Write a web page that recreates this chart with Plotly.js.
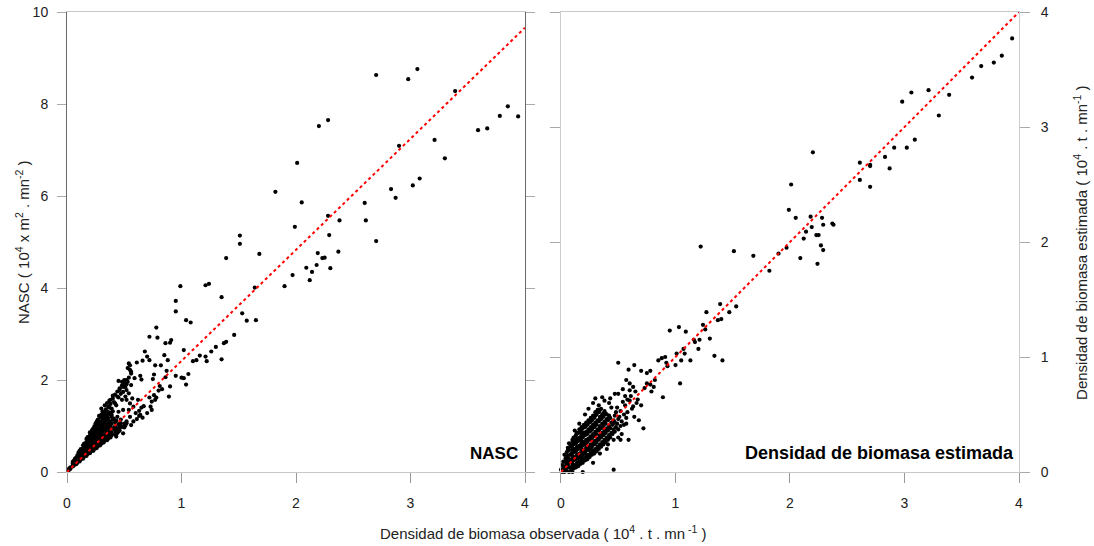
<!DOCTYPE html>
<html>
<head>
<meta charset="utf-8">
<script src="https://cdn.plot.ly/plotly-3.0.1.min.js"></script>
<style>html,body{margin:0;padding:0;background:#fff;}#chart{width:1094px;height:546px;}</style>
</head>
<body>
<div id="chart"></div>
<script>
// ---- Data ----
// Left panel: observed biomass density (x) vs NASC (y)
const nascPoints = [
  // sparse high values
  [2.70,8.63],[3.06,8.76],[2.98,8.54],[3.39,8.28],[3.85,7.95],[3.78,7.74],[3.94,7.73],[3.59,7.43],[3.67,7.47],
  [2.20,7.52],[2.28,7.65],[3.21,7.22],[3.30,6.82],[2.90,7.09],[2.01,6.72],[2.83,6.15],[2.87,5.96],[3.02,6.23],
  [3.08,6.38],[1.82,6.09],[2.05,5.86],[2.60,5.85],[2.28,5.57],[2.38,5.47],[2.61,5.47],[1.99,5.33],[2.29,5.15],
  [2.70,5.02],[1.51,5.14],[1.51,4.96],[1.68,4.74],[1.39,4.65],[2.19,4.76],[2.37,4.79],[2.23,4.65],[2.25,4.66],
  [2.18,4.50],[2.09,4.44],[2.30,4.43],[2.14,4.35],[1.97,4.28],[2.12,4.17],[1.90,4.04],[1.64,4.01],[1.21,4.06],
  [1.24,4.09],[1.35,3.80],
  // middle values
  [0.99,4.04],[0.95,3.72],[0.95,3.49],[1.04,3.30],[1.08,3.25],[1.53,3.45],[1.57,3.29],[1.65,3.30],[1.46,2.98],
  [1.39,2.83],[1.37,2.80],[1.30,2.72],[1.26,2.62],[1.35,2.45],[1.21,2.51],[1.22,2.41],[1.16,2.53],[1.10,2.41],
  [1.13,2.43],[1.02,2.65],[1.06,2.13],[1.00,2.05],[1.02,2.04],[1.04,1.90],[0.95,2.09],[0.78,3.14],[0.72,2.94],
  [0.79,2.92],[0.86,2.80],[0.91,2.87],[0.90,2.81],[0.85,2.54],[0.88,2.43],[0.68,2.62],[0.70,2.51],[0.72,2.43],
  [0.61,2.38],[0.66,2.42],[0.54,2.36],[0.77,2.32],[0.82,2.32],[0.76,2.12],[0.75,2.02],[0.87,2.20],[0.86,2.06],
  [0.83,1.80],[0.80,1.77],[0.81,1.87],[0.89,1.64],[0.90,1.86],[0.76,1.67],[0.78,1.62],[0.77,1.57],[0.72,1.62],
  [0.74,1.53],[0.73,1.42],[0.65,1.40],[0.64,1.24],[0.63,1.33],
  [0.55,2.22],[0.56,2.14],[0.52,2.00],[0.53,1.96],[0.56,1.89],[0.59,2.04],[0.64,2.09],[0.65,2.01],
  [0.45,1.98],[0.48,1.96],[0.50,2.00],[0.49,1.85],[0.52,1.78],[0.46,1.78],[0.44,1.64],[0.40,1.60],[0.38,1.57],
  [0.42,1.49],[0.48,1.57],[0.51,1.64],[0.54,1.71],[0.57,1.60],[0.52,1.57],[0.55,1.49],[0.58,1.42],[0.54,1.35],
  [0.49,1.35],[0.45,1.31],[0.62,1.57],[0.67,1.43],[0.70,1.28],[0.74,1.35],[0.55,1.20],[0.52,1.06],[0.48,0.98],
  [0.49,0.84],[0.45,0.88],[0.43,0.77],[0.61,1.15],[0.63,1.22],[0.66,1.18],[0.60,1.28],[0.58,1.10],[0.56,1.02],
  [0.30,1.38],[0.33,1.45],[0.35,1.50],[0.37,1.55],[0.40,1.66],[0.38,1.48],[0.42,1.68],[0.44,1.75],[0.41,1.52],
  [0.46,1.82],[0.48,1.88],[0.45,1.62],[0.50,1.93],[0.47,1.70],[0.52,1.91],[0.49,1.74],[0.43,1.45],[0.54,2.05],
  [0.51,1.85],[0.56,2.18],[0.53,2.26],[0.55,2.32],[0.39,1.38],[0.36,1.42],
  // dense cluster near the origin
  [0.02,0.05],[0.02,0.08],[0.03,0.10],[0.01,0.03],[0.03,0.07],
  [0.05,0.12],[0.05,0.18],[0.05,0.22],[0.06,0.14],[0.06,0.25],
  [0.08,0.17],[0.08,0.24],[0.08,0.31],[0.09,0.36],[0.09,0.20],[0.07,0.29],
  [0.11,0.23],[0.11,0.30],[0.11,0.38],[0.11,0.46],[0.12,0.50],[0.12,0.27],[0.10,0.42],
  [0.14,0.29],[0.14,0.36],[0.14,0.43],[0.14,0.51],[0.14,0.58],[0.15,0.62],[0.15,0.33],[0.13,0.48],
  [0.17,0.35],[0.17,0.42],[0.17,0.49],[0.17,0.57],[0.17,0.65],[0.17,0.72],[0.18,0.39],[0.18,0.61],[0.16,0.54],
  [0.20,0.41],[0.20,0.48],[0.20,0.56],[0.20,0.63],[0.20,0.71],[0.20,0.79],[0.20,0.86],[0.21,0.45],[0.21,0.67],
  [0.19,0.75],[0.21,0.83],
  [0.23,0.46],[0.23,0.54],[0.23,0.62],[0.23,0.70],[0.23,0.78],[0.23,0.86],[0.23,0.95],[0.24,0.50],[0.24,0.74],
  [0.22,0.91],[0.24,1.00],[0.24,0.58],
  [0.26,0.52],[0.26,0.60],[0.26,0.68],[0.26,0.76],[0.26,0.84],[0.26,0.93],[0.26,1.02],[0.26,1.10],[0.27,0.56],
  [0.27,0.88],[0.25,1.06],[0.27,0.72],
  [0.29,0.58],[0.29,0.66],[0.29,0.74],[0.29,0.82],[0.29,0.91],[0.29,1.00],[0.29,1.09],[0.29,1.18],[0.30,1.25],
  [0.30,0.62],[0.30,0.96],[0.28,1.22],[0.30,0.79],
  [0.32,0.64],[0.32,0.72],[0.32,0.80],[0.32,0.89],[0.32,0.98],[0.32,1.07],[0.32,1.16],[0.32,1.24],[0.33,1.30],
  [0.33,0.68],[0.31,1.32],[0.33,1.02],
  [0.35,0.69],[0.35,0.77],[0.35,0.86],[0.35,0.95],[0.35,1.04],[0.35,1.13],[0.35,1.22],[0.36,1.30],[0.36,0.73],
  [0.34,1.36],[0.36,0.99],
  [0.38,0.75],[0.38,0.83],[0.38,0.92],[0.38,1.01],[0.38,1.10],[0.39,1.20],[0.38,1.29],[0.39,0.80],[0.37,1.40],
  [0.39,1.05],
  [0.42,0.82],[0.42,0.90],[0.42,0.99],[0.42,1.08],[0.43,0.86],[0.41,1.16],[0.43,1.12],
  [0.46,0.90],[0.46,0.98],[0.47,1.06],[0.45,0.94],[0.47,1.14],
  [0.50,0.97],[0.50,1.05],[0.51,1.01],[0.52,1.10],
  [0.12,0.32],[0.13,0.40],[0.12,0.45],
  [0.15,0.38],[0.16,0.46],[0.15,0.55],[0.16,0.60],
  [0.18,0.44],[0.19,0.52],[0.18,0.60],[0.19,0.68],[0.18,0.76],
  [0.21,0.50],[0.22,0.58],[0.21,0.66],[0.22,0.74],[0.21,0.82],[0.22,0.90],
  [0.24,0.55],[0.25,0.64],[0.24,0.72],[0.25,0.80],[0.24,0.88],[0.25,0.96],
  [0.27,0.62],[0.28,0.70],[0.27,0.78],[0.28,0.86],[0.27,0.95],[0.28,1.04],[0.27,1.14],
  [0.30,0.68],[0.31,0.76],[0.30,0.85],[0.31,0.94],[0.30,1.03],[0.31,1.12],[0.30,1.21],
  [0.33,0.73],[0.34,0.82],[0.33,0.91],[0.34,1.00],[0.33,1.10],[0.34,1.19],[0.33,1.27],
  [0.36,0.80],[0.37,0.89],[0.36,0.98],[0.37,1.08],[0.36,1.17],[0.37,1.26],
  [0.39,0.86],[0.40,0.95],[0.40,1.14],[0.39,1.24],[0.40,1.32],
  [0.44,0.85],[0.44,0.95],[0.45,1.04],[0.44,1.20]
];

// Right panel: observed biomass density (x) vs estimated biomass density (y)
const biomasaPoints = [
  // sparse high values
  [3.94,3.77],[3.85,3.62],[3.78,3.56],[3.67,3.53],[3.59,3.43],[3.39,3.28],[3.30,3.10],[3.21,3.32],[3.06,3.30],
  [2.98,3.22],[3.09,2.89],[3.02,2.82],[2.91,2.82],[2.83,2.74],[2.87,2.64],[2.61,2.69],[2.70,2.67],[2.70,2.66],
  [2.61,2.54],[2.70,2.48],[2.20,2.78],[2.01,2.50],[1.99,2.28],[2.05,2.21],[2.18,2.22],[2.28,2.21],[2.29,2.15],
  [2.37,2.16],[2.38,2.15],[2.19,2.13],[2.14,2.09],[2.23,2.06],[2.25,2.06],[2.12,2.03],[2.27,1.97],[2.29,1.93],
  [2.24,1.81],[2.09,1.86],[1.97,1.95],[1.90,1.90],[1.82,1.75],[1.22,1.96],[1.51,1.92],[1.68,1.88],
  // middle values
  [1.39,1.46],[1.53,1.44],[1.37,1.32],[1.40,1.33],[1.47,1.39],[1.27,1.39],[1.24,1.28],[1.26,1.24],[1.30,1.16],
  [1.20,1.07],[1.16,1.15],[1.17,1.13],[1.21,1.15],[1.34,1.01],[1.41,0.97],[1.07,1.07],[1.08,1.03],[1.01,1.03],
  [1.05,0.97],[1.13,0.97],[1.00,0.93],[0.92,0.95],[0.95,1.23],[1.03,1.26],[1.09,1.22],[0.85,0.97],[0.88,0.99],
  [0.91,1.00],[0.93,0.92],[1.04,0.77],[0.89,0.65],[0.81,0.74],[0.82,0.80],[0.78,0.76],[0.75,0.77],[0.73,0.73],
  [0.79,0.70],[0.50,0.95],[0.64,0.93],[0.59,0.89],[0.70,0.88],[0.75,0.86],[0.78,0.88],[0.36,0.65],[0.43,0.64],
  [0.47,0.68],[0.50,0.68],[0.57,0.80],[0.60,0.71],[0.54,0.72],[0.65,0.70],[0.67,0.63],[0.63,0.57],[0.68,0.45],
  [0.72,0.38],[0.59,0.28],[0.52,0.28],[0.46,0.02],[0.41,0.24],[0.27,0.19],[0.33,0.58],[0.33,0.54],[0.37,0.51],
  [0.40,0.50],
  [0.12,0.36],[0.16,0.42],[0.21,0.50],[0.24,0.55],[0.28,0.60],[0.30,0.64],[0.38,0.62],[0.42,0.60],[0.44,0.56],
  [0.48,0.52],[0.50,0.46],[0.52,0.40],[0.55,0.50],[0.56,0.58],[0.60,0.62],[0.58,0.52],[0.62,0.55],[0.64,0.48],
  [0.66,0.60],[0.70,0.58],[0.34,0.16],[0.40,0.20],[0.46,0.28],[0.53,0.33],[0.57,0.42],[0.50,0.30],[0.19,0.00],
  [0.28,0.08],[0.49,0.42],[0.51,0.48],[0.53,0.44],[0.55,0.41],[0.52,0.53],[0.49,0.56],[0.54,0.61],[0.57,0.47],
  [0.47,0.49],[0.50,0.37],[0.58,0.63],[0.61,0.66],[0.56,0.66],[0.63,0.74],[0.60,0.77],
  // dense cluster near the origin
  [0.01,0.00],[0.02,0.03],[0.01,0.06],[0.00,0.02],[0.02,0.09],
  [0.03,0.00],[0.04,0.02],[0.03,0.05],[0.03,0.09],[0.04,0.12],[0.03,0.15],
  [0.05,0.01],[0.06,0.04],[0.05,0.07],[0.05,0.10],[0.06,0.14],[0.05,0.17],[0.06,0.21],
  [0.07,0.00],[0.08,0.04],[0.07,0.08],[0.07,0.11],[0.08,0.15],[0.07,0.19],[0.08,0.22],[0.07,0.25],
  [0.09,0.02],[0.10,0.05],[0.09,0.09],[0.10,0.12],[0.09,0.16],[0.10,0.19],[0.09,0.23],[0.10,0.26],[0.10,0.00],
  [0.11,0.03],[0.12,0.06],[0.11,0.10],[0.12,0.13],[0.11,0.17],[0.12,0.20],[0.11,0.24],[0.12,0.27],[0.11,0.30],
  [0.13,0.04],[0.14,0.08],[0.13,0.11],[0.14,0.15],[0.13,0.18],[0.14,0.22],[0.13,0.25],[0.14,0.29],[0.13,0.32],
  [0.15,0.05],[0.16,0.09],[0.15,0.12],[0.16,0.16],[0.15,0.20],[0.16,0.23],[0.15,0.27],[0.16,0.30],[0.15,0.34],[0.16,0.37],
  [0.17,0.07],[0.18,0.10],[0.17,0.14],[0.18,0.18],[0.17,0.21],[0.18,0.25],[0.17,0.28],[0.18,0.32],[0.17,0.36],[0.18,0.39],
  [0.19,0.08],[0.20,0.12],[0.19,0.15],[0.20,0.19],[0.19,0.23],[0.20,0.26],[0.19,0.30],[0.20,0.34],[0.19,0.38],[0.20,0.41],
  [0.21,0.10],[0.22,0.13],[0.21,0.17],[0.22,0.21],[0.21,0.24],[0.22,0.28],[0.21,0.32],[0.22,0.35],[0.21,0.39],[0.22,0.43],
  [0.23,0.11],[0.24,0.15],[0.23,0.19],[0.24,0.22],[0.23,0.26],[0.24,0.29],[0.23,0.33],[0.24,0.37],[0.23,0.41],[0.24,0.45],
  [0.25,0.13],[0.26,0.17],[0.25,0.20],[0.26,0.24],[0.25,0.28],[0.26,0.31],[0.25,0.35],[0.26,0.39],[0.25,0.43],[0.26,0.47],
  [0.27,0.15],[0.28,0.18],[0.27,0.22],[0.28,0.26],[0.27,0.29],[0.28,0.33],[0.27,0.37],[0.28,0.41],[0.27,0.45],[0.28,0.49],
  [0.29,0.16],[0.30,0.20],[0.29,0.24],[0.30,0.27],[0.29,0.31],[0.30,0.35],[0.29,0.39],[0.30,0.43],[0.29,0.47],[0.30,0.52],
  [0.31,0.18],[0.32,0.22],[0.31,0.26],[0.32,0.29],[0.31,0.33],[0.32,0.37],[0.31,0.41],[0.32,0.45],[0.31,0.50],[0.32,0.54],
  [0.33,0.20],[0.34,0.24],[0.33,0.28],[0.34,0.32],[0.33,0.36],[0.34,0.40],[0.33,0.44],[0.34,0.48],[0.33,0.52],
  [0.35,0.22],[0.36,0.26],[0.35,0.30],[0.36,0.34],[0.35,0.38],[0.36,0.42],[0.35,0.46],[0.36,0.50],[0.35,0.55],
  [0.37,0.24],[0.38,0.28],[0.37,0.32],[0.38,0.36],[0.37,0.40],[0.38,0.44],[0.37,0.48],[0.38,0.53],
  [0.39,0.26],[0.40,0.30],[0.39,0.34],[0.40,0.38],[0.39,0.42],[0.40,0.46],[0.39,0.51],
  [0.41,0.28],[0.42,0.32],[0.41,0.36],[0.42,0.40],[0.41,0.45],[0.42,0.49],
  [0.43,0.30],[0.44,0.34],[0.43,0.38],[0.44,0.43],[0.43,0.47],
  [0.45,0.33],[0.46,0.37],[0.45,0.41],[0.46,0.45],
  [0.47,0.35],[0.48,0.39],[0.47,0.43],
  [0.06,0.06],[0.06,0.12],[0.06,0.19],
  [0.10,0.07],[0.10,0.14],[0.10,0.21],[0.10,0.28],
  [0.14,0.06],[0.14,0.13],[0.14,0.20],[0.14,0.27],[0.14,0.34],
  [0.18,0.12],[0.18,0.20],[0.18,0.27],[0.18,0.34],[0.18,0.37],
  [0.22,0.15],[0.22,0.19],[0.22,0.26],[0.22,0.33],[0.22,0.41],
  [0.26,0.15],[0.26,0.22],[0.26,0.29],[0.26,0.36],[0.26,0.44],
  [0.30,0.18],[0.30,0.25],[0.30,0.33],[0.30,0.41],[0.30,0.49],
  [0.34,0.22],[0.34,0.30],[0.34,0.38],[0.34,0.46],[0.34,0.54],
  [0.38,0.26],[0.38,0.34],[0.38,0.42],[0.38,0.50],
  [0.42,0.30],[0.42,0.38],[0.42,0.47],
  [0.46,0.35],[0.46,0.43]
];

// Reference (fit) lines
const fitX = [0, 4];
const fitNasc = [0, 9.66];
const fitBio = [0, 4];

// Tick labels
const xTicks = [0, 1, 2, 3, 4];
const nascTicks = [0, 2, 4, 6, 8, 10];
const bioTicks = [0, 1, 2, 3, 4];

// ---- Plot ----
const FONT = 'Liberation Sans, Arial, Helvetica, sans-serif';
const tickFont = {family: FONT, size: 14, color: '#222'};
const titleFont = {family: FONT, size: 15, color: '#222'};
const markerStyle = {color: '#000', size: 4.2, line: {width: 0}};
const fitStyle = {color: '#ff0000', width: 2, dash: '3px,3px'};

const traces = [
  {type: 'scatter', mode: 'markers', xaxis: 'x', yaxis: 'y',
   x: nascPoints.map(p => p[0]), y: nascPoints.map(p => p[1]),
   marker: markerStyle, cliponaxis: false, hoverinfo: 'skip'},
  {type: 'scatter', mode: 'lines', xaxis: 'x', yaxis: 'y',
   x: fitX, y: fitNasc, line: fitStyle, hoverinfo: 'skip'},
  {type: 'scatter', mode: 'markers', xaxis: 'x2', yaxis: 'y2',
   x: biomasaPoints.map(p => p[0]), y: biomasaPoints.map(p => p[1]),
   marker: markerStyle, cliponaxis: false, hoverinfo: 'skip'},
  {type: 'scatter', mode: 'lines', xaxis: 'x2', yaxis: 'y2',
   x: fitX, y: fitBio, line: fitStyle, hoverinfo: 'skip'}
];

const xCommon = {
  range: [0, 4], tickvals: xTicks, ticktext: xTicks.map(String),
  ticks: 'outside', ticklen: 10, tickwidth: 1, tickcolor: '#9a9a9a',
  showline: true, linecolor: '#c8c8c8', linewidth: 1, mirror: true,
  showgrid: false, zeroline: false, tickfont: tickFont, ticklabelstandoff: 8
};

const layout = {
  width: 1094, height: 546,
  margin: {l: 67, r: 75, t: 12, b: 74, pad: 0},
  paper_bgcolor: '#fff', plot_bgcolor: '#fff',
  showlegend: false,
  font: {family: FONT, size: 14, color: '#222'},
  xaxis: Object.assign({}, xCommon, {domain: [0, 0.4811], anchor: 'y'}),
  xaxis2: Object.assign({}, xCommon, {domain: [0.5189, 1], anchor: 'y2'}),
  yaxis: {
    domain: [0, 1], range: [0, 10], anchor: 'x',
    tickvals: nascTicks, ticktext: nascTicks.map(String),
    ticks: 'outside', ticklen: 9, tickwidth: 1, tickcolor: '#aaaaaa',
    showline: true, linecolor: '#6a6a6a', linewidth: 1, mirror: 'ticks',
    showgrid: false, zeroline: false, tickfont: tickFont, ticklabelstandoff: 6
  },
  yaxis2: {
    domain: [0, 1], range: [0, 4], anchor: 'x2', side: 'right',
    tickvals: bioTicks, ticktext: bioTicks.map(String),
    ticks: 'outside', ticklen: 10, tickwidth: 1, tickcolor: '#aaaaaa',
    showline: true, linecolor: '#cccccc', linewidth: 1, mirror: 'ticks',
    showgrid: false, zeroline: false, tickfont: tickFont, ticklabelstandoff: 8
  },
  annotations: [
    {xref: 'paper', yref: 'paper', x: 0.5, y: -0.1326, xanchor: 'center', yanchor: 'middle',
     text: 'Densidad de biomasa observada ( 10<sup>4</sup> . t . mn<sup> -1</sup> )',
     showarrow: false, font: titleFont},
    {xref: 'paper', yref: 'paper', x: -0.0473, y: 0.5, xanchor: 'center', yanchor: 'middle',
     textangle: -90,
     text: 'NASC ( 10<sup>4</sup> x m<sup>2</sup> . mn<sup>-2</sup> )',
     showarrow: false, font: titleFont},
    {xref: 'paper', yref: 'paper', x: 1.064, y: 0.5, xanchor: 'center', yanchor: 'middle',
     textangle: -90,
     text: 'Densidad de biomasa estimada ( 10<sup>4</sup> . t . mn<sup>-1</sup> )',
     showarrow: false, font: titleFont},
    {xref: 'paper', yref: 'paper', x: 0.4758, y: 0.0413, xanchor: 'right', yanchor: 'middle',
     text: '<b>NASC</b>', showarrow: false, font: {family: FONT, size: 17, color: '#000'}},
    {xref: 'paper', yref: 'paper', x: 0.9968, y: 0.0413, xanchor: 'right', yanchor: 'middle',
     text: '<b>Densidad de biomasa estimada</b>', showarrow: false,
     font: {family: FONT, size: 18, color: '#000'}}
  ]
};

Plotly.newPlot('chart', traces, layout, {staticPlot: true, displayModeBar: false});
</script>
</body>
</html>
